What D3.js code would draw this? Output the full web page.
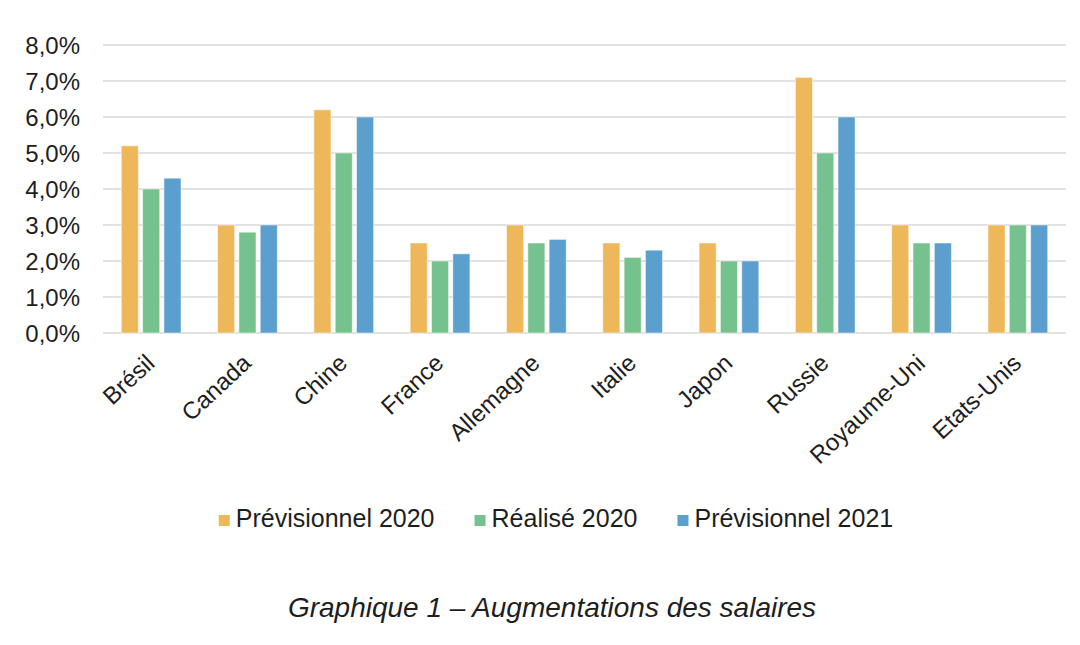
<!DOCTYPE html>
<html>
<head>
<meta charset="utf-8">
<script src="https://cdn.jsdelivr.net/npm/d3@7"></script>
<style>
  html, body { margin: 0; padding: 0; background: #fff; }
  svg { display: block; font-family: "Liberation Sans", Arial, Helvetica, sans-serif; }
</style>
</head>
<body>
<svg id="chart" width="1080" height="645"></svg>
<script>
const categories = ["Brésil", "Canada", "Chine", "France", "Allemagne", "Italie", "Japon", "Russie", "Royaume-Uni", "Etats-Unis"];
const seriesNames = ["Prévisionnel 2020", "Réalisé 2020", "Prévisionnel 2021"];
const previsionnel2020 = [5.2, 3.0, 6.2, 2.5, 3.0, 2.5, 2.5, 7.1, 3.0, 3.0];
const realise2020      = [4.0, 2.8, 5.0, 2.0, 2.5, 2.1, 2.0, 5.0, 2.5, 3.0];
const previsionnel2021 = [4.3, 3.0, 6.0, 2.2, 2.6, 2.3, 2.0, 6.0, 2.5, 3.0];
const yTicks = [0, 1, 2, 3, 4, 5, 6, 7, 8];
const yTickLabels = ["0,0%", "1,0%", "2,0%", "3,0%", "4,0%", "5,0%", "6,0%", "7,0%", "8,0%"];
const titleText = "Graphique 1 – Augmentations des salaires";

const seriesValues = [previsionnel2020, realise2020, previsionnel2021];
const colors = ["#EDB75A", "#76C28E", "#5A9FCE"];
const textColor = "#1e1e1e";

const svg = d3.select("#chart");
const plot = { left: 103, right: 1066, top: 45, bottom: 333 };

const x0 = d3.scaleBand().domain(categories).range([plot.left, plot.right]).paddingInner(0.38).paddingOuter(0.19);
const x1 = d3.scaleBand().domain(seriesNames).range([0, x0.bandwidth()]).paddingInner(0.2);
const y = d3.scaleLinear().domain([0, 8]).range([plot.bottom, plot.top]);

// gridlines
svg.append("g").selectAll("line").data(yTicks).join("line")
  .attr("x1", plot.left).attr("x2", plot.right)
  .attr("y1", d => y(d)).attr("y2", d => y(d))
  .attr("stroke", "#d9d9d9").attr("stroke-width", 1.5);

// y axis labels
const yAxis = d3.axisLeft(y).tickValues(yTicks).tickFormat((d, i) => yTickLabels[i]).tickSize(0).tickPadding(0);
const gy = svg.append("g").attr("transform", `translate(80,0)`).call(yAxis);
gy.select(".domain").remove();
gy.selectAll("text").attr("font-size", 24).attr("fill", textColor)
  .attr("font-family", "'Liberation Sans', Arial, sans-serif").attr("dy", "0.34em");

// bars
const groups = svg.append("g").selectAll("g").data(categories).join("g")
  .attr("transform", d => `translate(${x0(d)},0)`);
groups.selectAll("rect")
  .data((c, ci) => seriesNames.map((s, si) => ({ s, si, v: seriesValues[si][ci] })))
  .join("rect")
  .attr("x", d => x1(d.s))
  .attr("width", x1.bandwidth())
  .attr("y", d => y(d.v))
  .attr("height", d => y(0) - y(d.v))
  .attr("fill", d => colors[d.si])
  .attr("stroke", "#ffffff").attr("stroke-opacity", 0.5).attr("stroke-width", 1);

// x axis labels
const xAxis = d3.axisBottom(x0).tickSize(0).tickPadding(0);
const gx = svg.append("g").attr("transform", `translate(0,${plot.bottom})`).call(xAxis);
gx.select(".domain").remove();
gx.selectAll("text")
  .attr("font-size", 24).attr("fill", textColor)
  .attr("font-family", "'Liberation Sans', Arial, sans-serif")
  .attr("text-anchor", "end")
  .attr("dy", null).attr("y", null)
  .attr("transform", "translate(5,32) rotate(-43)");

// legend
const legend = svg.append("g");
const legendFont = 25;
const items = legend.selectAll("g").data(seriesNames).join("g");
items.append("rect").attr("width", 11).attr("height", 11).attr("y", -12)
  .attr("fill", (d, i) => colors[i]);
items.append("text").text(d => d).attr("x", 17)
  .attr("font-size", legendFont).attr("fill", textColor);
let widths = [];
items.each(function () { widths.push(this.getBBox().width); });
const gap = 40;
const total = d3.sum(widths) + gap * (widths.length - 1);
let cx = 556 - total / 2;
items.attr("transform", (d, i) => {
  const tx = cx; cx += widths[i] + gap; return `translate(${tx},527)`;
});

// title
svg.append("text").text(titleText)
  .attr("x", 552).attr("y", 617).attr("text-anchor", "middle")
  .attr("font-size", 28).attr("font-style", "italic").attr("fill", textColor);
</script>
</body>
</html>
